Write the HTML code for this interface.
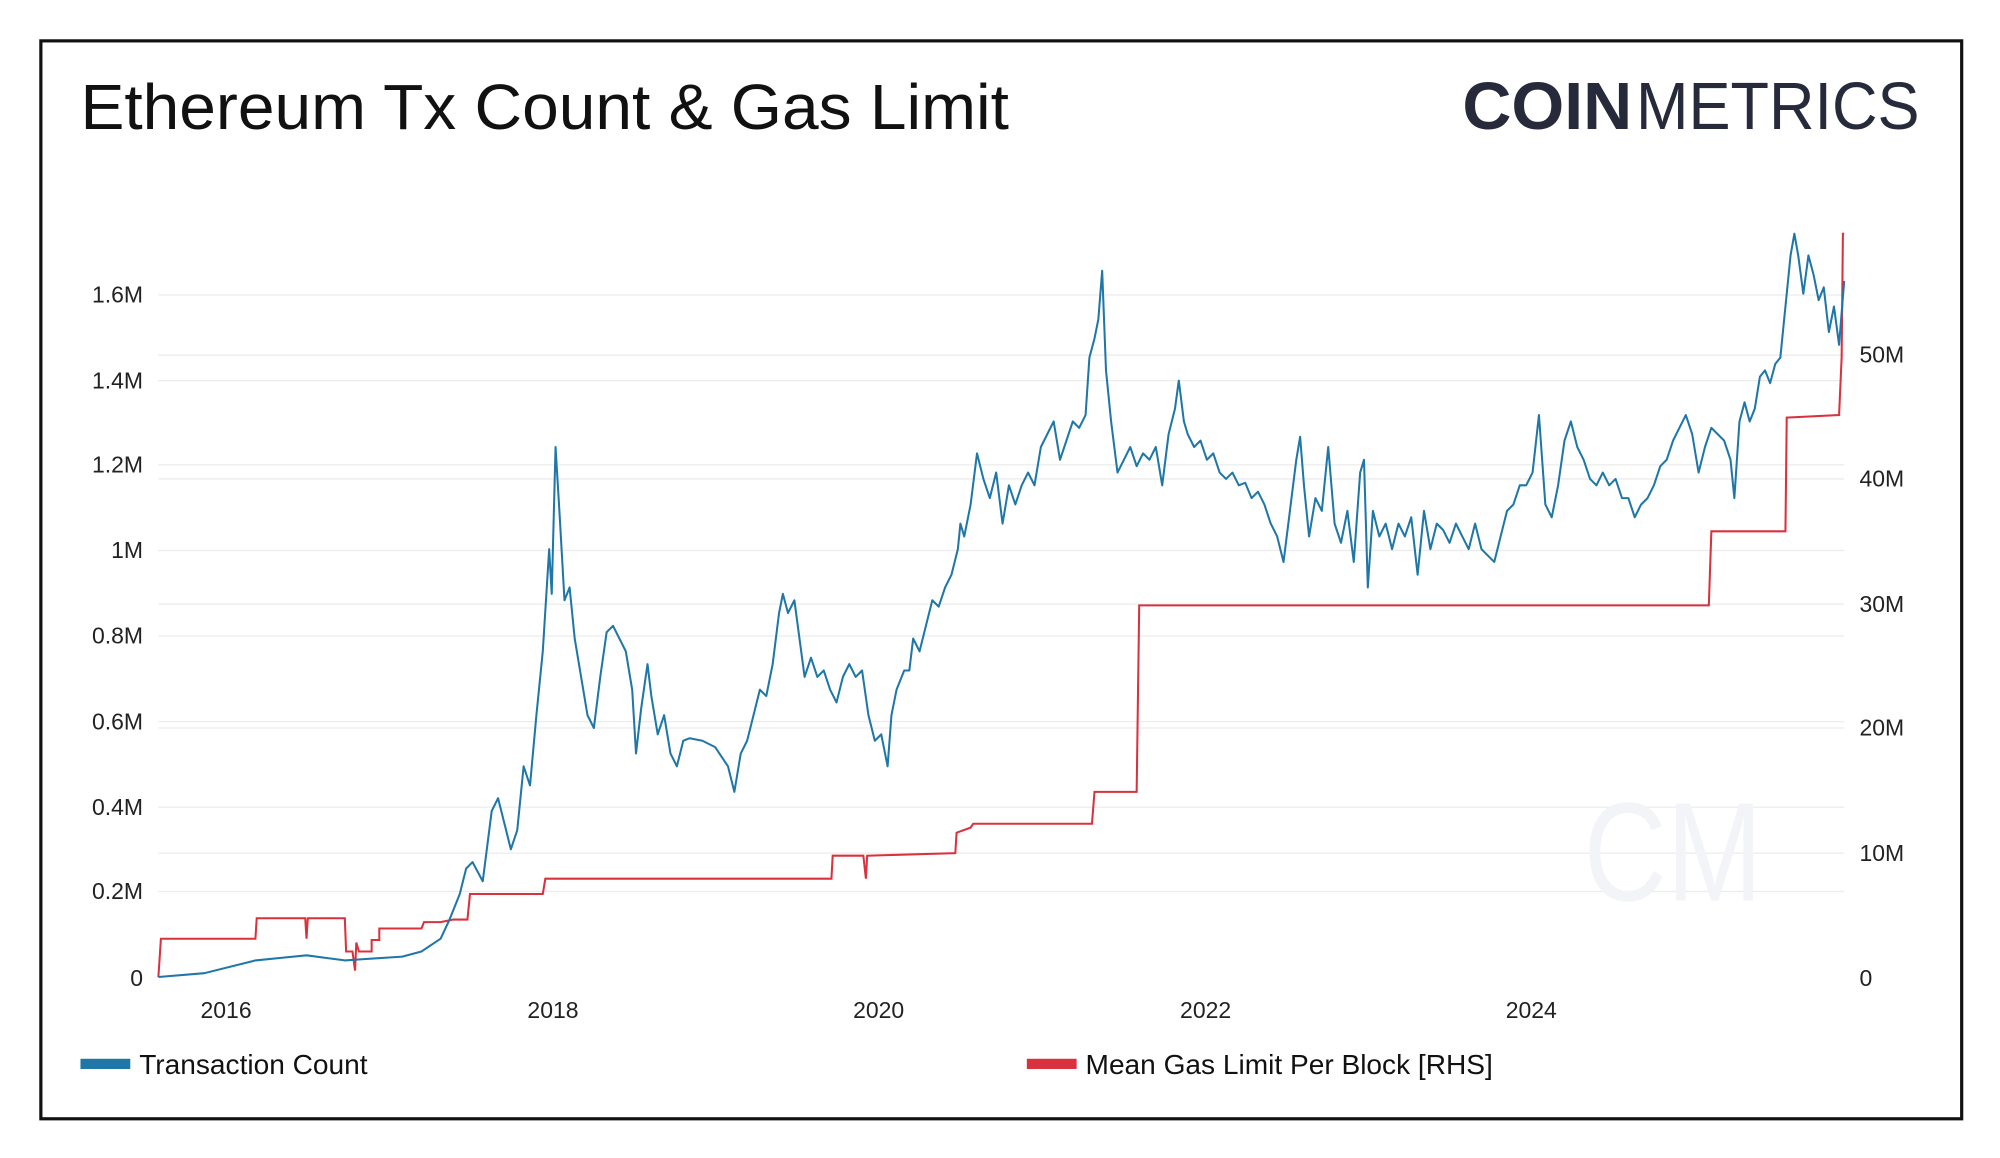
<!DOCTYPE html>
<html><head><meta charset="utf-8"><style>
html,body{margin:0;padding:0;background:#fff;}
svg{display:block;}
</style></head><body>
<svg width="2000" height="1158" viewBox="0 0 1566 906.7" preserveAspectRatio="none" xmlns="http://www.w3.org/2000/svg" font-family="Liberation Sans, sans-serif">
<rect x="0" y="0" width="1566" height="906.7" fill="#fff"/>
<rect x="32" y="32" width="1504" height="844" fill="none" stroke="#111" stroke-width="2.5"/>
<text x="63" y="101" font-size="50" fill="#111" textLength="727" lengthAdjust="spacingAndGlyphs">Ethereum Tx Count &amp; Gas Limit</text>
<text x="1145" y="101" font-size="52" font-weight="bold" fill="#262a3b" textLength="133" lengthAdjust="spacingAndGlyphs">COIN</text>
<text x="1281" y="101" font-size="52" fill="#262a3b" textLength="222" lengthAdjust="spacingAndGlyphs">METRICS</text>
<g stroke="#ececec" stroke-width="1">
<line x1="124" x2="1444" y1="231" y2="231"/><line x1="124" x2="1444" y1="298" y2="298"/><line x1="124" x2="1444" y1="364" y2="364"/><line x1="124" x2="1444" y1="431" y2="431"/><line x1="124" x2="1444" y1="498" y2="498"/><line x1="124" x2="1444" y1="565" y2="565"/><line x1="124" x2="1444" y1="632" y2="632"/><line x1="124" x2="1444" y1="698" y2="698"/>
<line x1="124" x2="1444" y1="278" y2="278"/><line x1="124" x2="1444" y1="375" y2="375"/><line x1="124" x2="1444" y1="473" y2="473"/><line x1="124" x2="1444" y1="570" y2="570"/><line x1="124" x2="1444" y1="668" y2="668"/>
</g>
<text x="1240" y="705" font-size="110" fill="#f2f4f8" textLength="140" lengthAdjust="spacingAndGlyphs">CM</text>
<g font-size="18" fill="#222" text-anchor="end">
<text x="112" y="237">1.6M</text><text x="112" y="304">1.4M</text><text x="112" y="370">1.2M</text><text x="112" y="437">1M</text><text x="112" y="504">0.8M</text><text x="112" y="571">0.6M</text><text x="112" y="638">0.4M</text><text x="112" y="704">0.2M</text><text x="112" y="772">0</text>
</g>
<g font-size="18" fill="#222">
<text x="1456" y="284">50M</text><text x="1456" y="381">40M</text><text x="1456" y="479">30M</text><text x="1456" y="576">20M</text><text x="1456" y="674">10M</text><text x="1456" y="772">0</text>
</g>
<g font-size="18" fill="#222" text-anchor="middle">
<text x="177" y="797">2016</text><text x="433" y="797">2018</text><text x="688" y="797">2020</text><text x="944" y="797">2022</text><text x="1199" y="797">2024</text>
</g>
<polyline fill="none" stroke="#d9313d" stroke-width="1.6" points="124,765 126,735 200,735 201,719 239,719 240,735 241,719 270,719 271,745 276,745 278,760 279,738 281,745 285,745 291,745 291,736 297,736 297,727 330,727 332,722 345,722 355,720 366,720 368,700 425,700 427,688 651,688 652,670 676,670 678,688 679,670 748,668 749,652 760,648 762,645 855,645 857,620 890,620 892,474 1338,474 1340,416 1398,416 1399,327 1440,325 1442,280 1443,183 1444,183"/>
<polyline fill="none" stroke="#1f77a8" stroke-width="1.6" stroke-linejoin="round" points="124,765 160,762 200,752 220,750 240,748 255,750 270,752 285,751 300,750 315,749 330,745 345,735 352,720 360,700 365,680 370,675 378,690 385,635 390,625 395,645 400,665 405,650 410,600 415,615 420,560 425,510 430,430 432,465 435,350 438,400 442,470 446,460 450,500 455,530 460,560 465,570 470,530 475,495 480,490 485,500 490,510 495,540 498,590 502,555 507,520 510,545 515,575 520,560 525,590 530,600 535,580 540,578 550,580 560,585 570,600 575,620 580,590 585,580 590,560 595,540 600,545 605,520 610,480 613,465 617,480 622,470 626,500 630,530 635,515 640,530 645,525 650,540 655,550 660,530 665,520 670,530 675,525 680,560 685,580 690,575 695,600 698,560 702,540 708,525 712,525 715,500 720,510 725,490 730,470 735,475 740,460 745,450 750,430 752,410 755,420 760,395 765,355 770,375 775,390 780,370 785,410 790,380 795,395 800,380 805,370 810,380 815,350 820,340 825,330 830,360 835,345 840,330 845,335 850,325 853,280 857,265 860,250 863,212 866,290 870,330 875,370 880,360 885,350 890,365 895,355 900,360 905,350 910,380 915,340 920,320 923,298 927,330 930,340 935,350 940,345 945,360 950,355 955,370 960,375 965,370 970,380 975,378 980,390 985,385 990,395 995,410 1000,420 1005,440 1010,400 1015,360 1018,342 1021,380 1025,420 1030,390 1035,400 1040,350 1045,410 1050,425 1055,400 1060,440 1065,370 1068,360 1071,460 1075,400 1080,420 1085,410 1090,430 1095,410 1100,420 1105,405 1110,450 1115,400 1120,430 1125,410 1130,415 1135,425 1140,410 1145,420 1150,430 1155,410 1160,430 1165,435 1170,440 1175,420 1180,400 1185,395 1190,380 1195,380 1200,370 1205,325 1210,395 1215,405 1220,380 1225,345 1230,330 1235,350 1240,360 1245,375 1250,380 1255,370 1260,380 1265,375 1270,390 1275,390 1280,405 1285,395 1290,390 1295,380 1300,365 1305,360 1310,345 1315,335 1320,325 1325,340 1330,370 1335,350 1340,335 1345,340 1350,345 1355,360 1358,390 1362,330 1366,315 1370,330 1374,320 1378,295 1382,290 1386,300 1390,285 1394,280 1398,240 1402,200 1405,183 1408,200 1412,230 1416,200 1420,215 1424,235 1428,225 1432,260 1436,240 1440,270 1444,220"/>
<rect x="63" y="829" width="39" height="8" fill="#1f77a8"/>
<text x="109" y="841" font-size="22" fill="#111">Transaction Count</text>
<rect x="804" y="829" width="39" height="8" fill="#d9313d"/>
<text x="850" y="841" font-size="22" fill="#111">Mean Gas Limit Per Block [RHS]</text>
</svg>
</body></html>
